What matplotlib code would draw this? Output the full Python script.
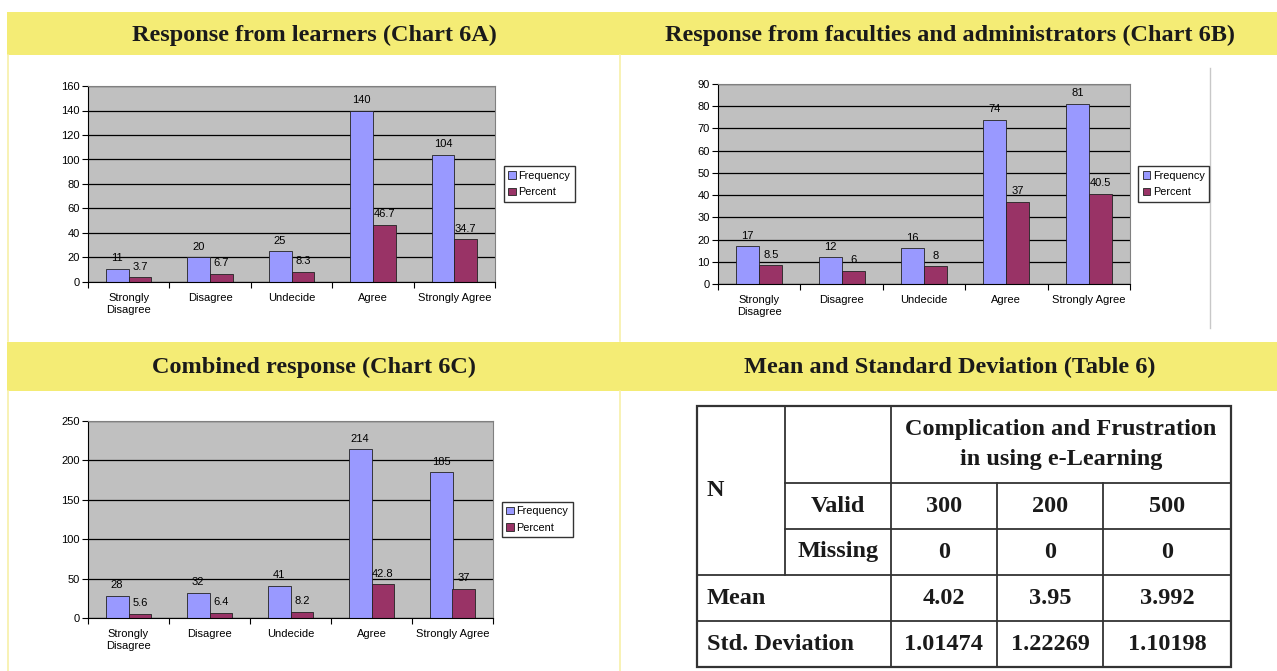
#!/usr/bin/env python3
import matplotlib; matplotlib.use('Agg')
import numpy as np
import matplotlib.pyplot as plt
from matplotlib.patches import Rectangle

# ---- data ----
categories = ['Strongly\nDisagree', 'Disagree', 'Undecide', 'Agree', 'Strongly Agree']
freq_6a = [11, 20, 25, 140, 104]
pct_6a = [3.7, 6.7, 8.3, 46.7, 34.7]
freq_6b = [17, 12, 16, 74, 81]
pct_6b = [8.5, 6, 8, 37, 40.5]
freq_6c = [28, 32, 41, 214, 185]
pct_6c = [5.6, 6.4, 8.2, 42.8, 37]

table_title = 'Complication and Frustration\nin using e-Learning'
valid_n = ['300', '200', '500']
missing_n = ['0', '0', '0']
means = ['4.02', '3.95', '3.992']
std_devs = ['1.01474', '1.22269', '1.10198']

W, H = 1277, 671
YELLOW = '#F4EC75'
SERIF = 'Liberation Serif'
SANS = 'Liberation Sans'
FS = 8  # chart text size

fig = plt.figure(figsize=(W / 100, H / 100), dpi=100)
fig.patch.set_facecolor('white')

# background axis in pixel coordinates
bg = fig.add_axes([0, 0, 1, 1])
bg.set_xlim(0, W)
bg.set_ylim(H, 0)
bg.axis('off')

def px_axes(x0, y0, x1, y1):
  return fig.add_axes([x0 / W, 1 - y1 / H, (x1 - x0) / W, (y1 - y0) / H])

# header bars and panel borders
for y0, y1 in [(12, 55), (342, 391)]:
  bg.add_patch(Rectangle((7, y0), W - 7, y1 - y0, facecolor=YELLOW, edgecolor='none'))
for x in [8, 620]:
  bg.plot([x, x], [55, 341], color='#F7F0A8', lw=1.2)
  bg.plot([x, x], [391, 671], color='#F7F0A8', lw=1.2)

headers = [
  (314, 35, 'Response from learners (Chart 6A)'),
  (950, 35, 'Response from faculties and administrators (Chart 6B)'),
  (314, 367, 'Combined response (Chart 6C)'),
  (950, 367, 'Mean and Standard Deviation (Table 6)'),
]
for x, y, t in headers:
  bg.text(x, y, t, ha='center', va='center', fontsize=17.5, fontweight='bold',
          family=SERIF, color='#1a1a1a')

# chart object border line in 6B
bg.plot([1210, 1210], [68, 328], color='#C8C8C8', lw=1)

def bar_chart(box, freq, pct, ymax, step, legend_x):
  ax = px_axes(*box)
  x = np.arange(len(categories))
  w = 0.28
  ax.set_facecolor('#C0C0C0')
  ax.set_axisbelow(True)
  ax.yaxis.grid(True, color='black', lw=0.9)
  b1 = ax.bar(x - w / 2, freq, w, color='#9999FF', edgecolor='#222222', lw=0.6, label='Frequency')
  b2 = ax.bar(x + w / 2, pct, w, color='#993366', edgecolor='#222222', lw=0.6, label='Percent')
  for bars, vals in [(b1, freq), (b2, pct)]:
    for rect, v in zip(bars, vals):
      ax.annotate(f'{v:g}', (rect.get_x() + rect.get_width() / 2, rect.get_height()),
                  xytext=(0, 4), textcoords='offset points', ha='center', va='bottom',
                  fontsize=FS, family=SANS)
  ax.set_xlim(-0.5, len(categories) - 0.5)
  ax.set_ylim(0, ymax)
  ax.set_yticks(np.arange(0, ymax + 1, step))
  ax.set_xticks(np.arange(len(categories) + 1) - 0.5)
  ax.set_xticklabels([])
  ax.set_xticks(x, minor=True)
  ax.set_xticklabels(categories, minor=True, fontsize=FS, family=SANS)
  ax.tick_params(axis='x', which='minor', length=0, pad=8)
  ax.tick_params(axis='x', which='major', length=4, width=0.8)
  ax.tick_params(axis='y', length=4, width=0.8, labelsize=FS, pad=2)
  for lbl in ax.get_yticklabels():
    lbl.set_family(SANS)
  for s in ['top', 'right']:
    ax.spines[s].set_color('#808080')
  for s in ['left', 'bottom']:
    ax.spines[s].set_color('black')
  ax.legend(loc='center left', bbox_to_anchor=(legend_x, 0.5), frameon=True, fancybox=False,
            edgecolor='black', prop={'family': SANS, 'size': 7.8},
            handlelength=0.7, handleheight=0.7, handletextpad=0.25, borderpad=0.4,
            labelspacing=0.6, borderaxespad=0)
  return ax

bar_chart((88, 86, 495, 282), freq_6a, pct_6a, 160, 20, 1.022)
bar_chart((718, 84, 1130, 284), freq_6b, pct_6b, 90, 10, 1.02)
bar_chart((88, 421, 493, 618), freq_6c, pct_6c, 250, 50, 1.022)

# ---- table 6 ----
cols = [697, 785, 891, 997, 1103, 1231]
rows = [406, 483, 529, 575, 621, 667]
lc = '#333333'
lw = 1.3
tfont = dict(family=SERIF, fontweight='bold', fontsize=17.5, color='#1a1a1a')

bg.add_patch(Rectangle((cols[0], rows[0]), cols[-1] - cols[0], rows[-1] - rows[0],
                       fill=False, edgecolor=lc, lw=1.6))
# horizontal lines
bg.plot([cols[1], cols[-1]], [rows[1], rows[1]], color=lc, lw=lw)
bg.plot([cols[1], cols[-1]], [rows[2], rows[2]], color=lc, lw=lw)
bg.plot([cols[0], cols[-1]], [rows[3], rows[3]], color=lc, lw=lw)
bg.plot([cols[0], cols[-1]], [rows[4], rows[4]], color=lc, lw=lw)
# vertical lines
bg.plot([cols[1], cols[1]], [rows[0], rows[3]], color=lc, lw=lw)
bg.plot([cols[2], cols[2]], [rows[0], rows[-1]], color=lc, lw=lw)
for c in cols[3:5]:
  bg.plot([c, c], [rows[1], rows[-1]], color=lc, lw=lw)

bg.text((cols[2] + cols[-1]) / 2, (rows[0] + rows[1]) / 2, table_title, ha='center',
        va='center', linespacing=1.55, **tfont)
bg.text(cols[0] + 10, 491, 'N', ha='left', va='center', **tfont)
bg.text((cols[1] + cols[2]) / 2, (rows[1] + rows[2]) / 2, 'Valid', ha='center', va='center', **tfont)
bg.text((cols[1] + cols[2]) / 2, (rows[2] + rows[3]) / 2, 'Missing', ha='center', va='center', **tfont)
bg.text(cols[0] + 10, (rows[3] + rows[4]) / 2, 'Mean', ha='left', va='center', **tfont)
bg.text(cols[0] + 10, (rows[4] + rows[5]) / 2, 'Std. Deviation', ha='left', va='center', **tfont)
for r, vals in zip(range(1, 5), [valid_n, missing_n, means, std_devs]):
  for i, v in enumerate(vals):
    bg.text((cols[i + 2] + cols[i + 3]) / 2, (rows[r] + rows[r + 1]) / 2, v,
            ha='center', va='center', **tfont)

plt.savefig('out.png', dpi=100)
